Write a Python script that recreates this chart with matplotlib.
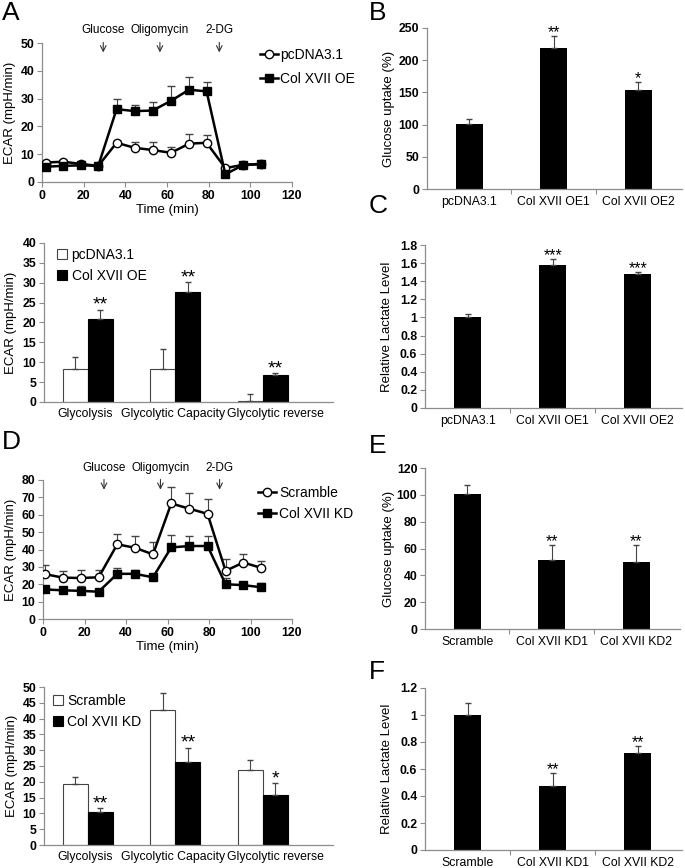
import numpy as np
import matplotlib
matplotlib.use("Agg")
import matplotlib.pyplot as plt
from matplotlib.lines import Line2D
from matplotlib.ticker import FuncFormatter

plt.rcParams['font.family'] = ['Liberation Sans', 'DejaVu Sans']

W, H = 685, 868

# ---- data: panel A (overexpression, Seahorse trace)
time_a = [1.8, 10.2, 18.6, 27.0, 35.8, 44.5, 53.1, 61.9, 70.6, 79.0, 88.0, 96.6, 105.1]
pc_ecar = [7.0, 7.3, 6.5, 5.8, 14.1, 12.3, 11.5, 10.5, 13.8, 14.1, 5.0, 6.2, 6.5]
pc_err = [0.6, 0.6, 0.5, 0.4, 0.5, 2.2, 3.0, 2.0, 3.4, 2.8, 0.6, 0.4, 0.4]
oe_ecar = [5.5, 5.8, 6.0, 5.8, 26.2, 25.5, 25.7, 29.2, 33.2, 32.6, 2.8, 6.1, 6.4]
oe_err = [0.4, 0.4, 0.4, 0.4, 3.6, 2.3, 3.1, 5.2, 4.4, 3.4, 0.5, 0.4, 0.4]

# ---- data: panel D (knockdown, Seahorse trace)
time_d = [1.1, 9.6, 18.2, 26.8, 35.8, 44.3, 53.0, 61.8, 70.5, 79.3, 88.0, 96.5, 105.0]
scr_ecar = [25.8, 23.8, 23.6, 24.0, 43.0, 41.0, 37.2, 66.5, 63.5, 60.5, 27.7, 32.5, 29.5]
scr_err = [5.2, 4.0, 4.5, 4.0, 6.2, 7.0, 7.0, 9.5, 9.0, 8.5, 6.8, 5.0, 4.0]
kd_ecar = [17.0, 16.5, 16.2, 15.7, 26.0, 26.0, 24.0, 41.2, 42.0, 42.0, 20.0, 19.5, 18.3]
kd_err = [1.0, 1.5, 2.8, 1.0, 3.5, 2.0, 0.5, 7.0, 6.0, 6.0, 3.5, 1.0, 2.5]

injections = ['Glucose', 'Oligomycin', '2-DG']
inject_t = [29.4, 56.6, 85.1]

# ---- grouped bars (A lower, D lower)
gly_cats = ['Glycolysis', 'Glycolytic Capacity', 'Glycolytic reverse']
a_pc = [8.2, 8.4, 0.3]
a_pc_err = [3.1, 4.9, 1.7]
a_oe = [20.8, 27.7, 6.8]
a_oe_err = [2.4, 2.5, 0.5]
a_stars = ['**', '**', '**']

d_scr = [19.2, 42.8, 23.6]
d_scr_err = [2.4, 5.4, 3.2]
d_kd = [10.6, 26.3, 15.9]
d_kd_err = [1.0, 4.5, 3.7]
d_stars = ['**', '**', '*']

# ---- single bars
oe_cats = ['pcDNA3.1', 'Col XVII OE1', 'Col XVII OE2']
b_uptake = [101, 219, 154]
b_err = [7.5, 19, 12]
b_stars = ['', '**', '*']
c_lact = [1.0, 1.58, 1.476]
c_err = [0.033, 0.065, 0.03]
c_stars = ['', '***', '***']

kd_cats = ['Scramble', 'Col XVII KD1', 'Col XVII KD2']
e_uptake = [100.7, 51.5, 49.8]
e_err = [6.3, 10.9, 12.6]
e_stars = ['', '**', '**']
f_lact = [1.0, 0.476, 0.72]
f_err = [0.087, 0.091, 0.05]
f_stars = ['', '**', '**']

AXC = '#8c8c8c'
TICK = 8.8
CAT = 9
LAB = 9.5
LEG = 10


def ax_at(l, t, r, b):
    return fig.add_axes([l / W, 1 - b / H, (r - l) / W, (b - t) / H])


def style(ax):
    for s in ['top', 'right']:
        ax.spines[s].set_visible(False)
    for s in ['left', 'bottom']:
        ax.spines[s].set_color(AXC)
        ax.spines[s].set_linewidth(0.9)
    ax.tick_params(direction='out', length=3.5, width=0.8, color=AXC,
                   labelsize=TICK, pad=2)
    for lab in ax.get_yticklabels():
        lab.set_fontweight('bold')


def gfmt(v, pos):
    return '%g' % round(v, 2)


def stars_on(ax, xs, tops, stars, size):
    for x, t, s in zip(xs, tops, stars):
        if s:
            ax.annotate(s, (x, t), xytext=(0, -3), textcoords='offset points',
                        ha='center', va='bottom', fontsize=size)


def trace(ax, t, s1, e1, s2, e2, lab1, lab2, ymax, ystep, arr_top, arr_bot, lab_y, leg_xy, spacing):
    z = np.zeros(len(t))
    ax.errorbar(t, s1, yerr=[z, e1], fmt='-o', color='k', mfc='white', mec='k',
                ms=6, mew=1, lw=1.8, ecolor='#444444', elinewidth=0.8, capsize=3,
                zorder=3)
    ax.errorbar(t, s2, yerr=[z, e2], fmt='-s', color='k', mfc='k', mec='k',
                ms=6, lw=1.8, ecolor='#444444', elinewidth=0.8, capsize=3,
                zorder=4)
    ax.set_xlim(0, 120)
    ax.set_ylim(0, ymax)
    ax.set_xticks(range(0, 121, 20))
    ax.set_yticks(np.arange(0, ymax + 1, ystep))
    ax.set_xlabel('Time (min)', fontsize=LAB, labelpad=2)
    ax.set_ylabel('ECAR (mpH/min)', fontsize=LAB)
    for name, x in zip(injections, inject_t):
        ax.annotate('', xy=(x, arr_bot), xytext=(x, arr_top),
                    arrowprops=dict(arrowstyle='->', color='#333333', lw=0.8),
                    annotation_clip=False)
        ax.text(x, lab_y, name, ha='center', va='center', fontsize=8.5, clip_on=False)
    handles = [Line2D([], [], color='k', lw=1.8, marker='o', mfc='white', mec='k', ms=6),
               Line2D([], [], color='k', lw=1.8, marker='s', mfc='k', mec='k', ms=6)]
    ax.legend(handles, [lab1, lab2], loc='upper left', bbox_to_anchor=leg_xy, frameon=False,
              fontsize=LEG, handlelength=1.3, handletextpad=0.2, borderpad=0,
              borderaxespad=0, labelspacing=spacing)
    style(ax)
    for lab in ax.get_xticklabels():
        lab.set_fontweight('bold')


def grouped(ax, v1, e1, v2, e2, lab1, lab2, stars, ymax, ystep, leg_xy, spacing):
    x = np.arange(len(gly_cats))
    w = 0.286
    ax.bar(x - w / 2, v1, w, color='white', edgecolor='#444444', linewidth=0.8,
           yerr=[np.zeros(3), e1], error_kw=dict(ecolor='#444444', elinewidth=0.8, capsize=2.5),
           label=lab1)
    ax.bar(x + w / 2, v2, w, color='black', edgecolor='black', linewidth=0.8,
           yerr=[np.zeros(3), e2], error_kw=dict(ecolor='#444444', elinewidth=0.8, capsize=2.5),
           label=lab2)
    stars_on(ax, x + w / 2, np.array(v2) + np.array(e2), stars, size=14)
    ax.set_xlim(-0.5, 2.8)
    ax.set_ylim(0, ymax)
    ax.set_yticks(np.arange(0, ymax + 1, ystep))
    # label anchors sit a little off the group centres, as in the original
    ax.set_xticks(x + np.array([-0.035, -0.025, 0.14]))
    ax.set_xticklabels(gly_cats, fontsize=8.6)
    ax.set_ylabel('ECAR (mpH/min)', fontsize=LAB)
    ax.legend(loc='upper left', bbox_to_anchor=leg_xy, frameon=False, fontsize=LEG,
              handlelength=0.75, handleheight=0.75, handletextpad=0.3, borderpad=0,
              borderaxespad=0, labelspacing=spacing)
    style(ax)
    ax.tick_params(axis='x', length=0, pad=4)


def single(ax, cats, vals, errs, stars, ymax, ystep, ylabel):
    x = np.arange(len(cats))
    ax.bar(x, vals, 0.32, color='black', yerr=[np.zeros(len(x)), errs],
           error_kw=dict(ecolor='#444444', elinewidth=0.8, capsize=2.5))
    stars_on(ax, x, np.array(vals) + np.array(errs), stars, size=11.5)
    ax.set_xlim(-0.5, 2.52)
    ax.set_ylim(0, ymax)
    ax.set_yticks(np.arange(0, ymax + ystep / 2, ystep))
    ax.yaxis.set_major_formatter(FuncFormatter(gfmt))
    ax.set_xticks(x)
    ax.set_xticklabels(cats, fontsize=CAT)
    ax.set_xticks([0.5, 1.5], minor=True)
    ax.set_ylabel(ylabel, fontsize=LAB)
    style(ax)
    ax.tick_params(axis='x', which='major', length=0, pad=5)
    ax.tick_params(axis='x', which='minor', length=3.5, width=0.8, color=AXC, direction='out')


fig = plt.figure(figsize=(W / 100, H / 100), dpi=100)

# A trace
ax = ax_at(42, 43, 292, 182)
trace(ax, time_a, pc_ecar, pc_err, oe_ecar, oe_err, 'pcDNA3.1', 'Col XVII OE',
      50, 10, 51.2, 45.6, 54.6, (0.87, 0.965), 0.75)
ax.yaxis.set_label_coords(-0.104, 0.5)

# A bars
ax = ax_at(44, 243, 333, 402)
grouped(ax, a_pc, a_pc_err, a_oe, a_oe_err, 'pcDNA3.1', 'Col XVII OE', a_stars,
        40, 5, (0.045, 0.97), 0.5)
ax.yaxis.set_label_coords(-0.093, 0.5)

# B
ax = ax_at(427, 28, 682, 189)
single(ax, oe_cats, b_uptake, b_err, b_stars, 250, 50, 'Glucose uptake (%)')
ax.yaxis.set_label_coords(-0.125, 0.5)

# C
ax = ax_at(425, 245, 682, 408)
single(ax, oe_cats, c_lact, c_err, c_stars, 1.8, 0.2, 'Relative Lactate Level')
ax.yaxis.set_label_coords(-0.125, 0.5)

# D trace
ax = ax_at(43, 480, 292, 619)
trace(ax, time_d, scr_ecar, scr_err, kd_ecar, kd_err, 'Scramble', 'Col XVII KD',
      80, 10, 81.9, 72.8, 86.7, (0.865, 0.955), 0.5)
ax.yaxis.set_label_coords(-0.104, 0.5)

# D bars
ax = ax_at(44, 687, 333, 845)
grouped(ax, d_scr, d_scr_err, d_kd, d_kd_err, 'Scramble', 'Col XVII KD', d_stars,
        50, 5, (0.03, 0.955), 0.5)
ax.yaxis.set_label_coords(-0.09, 0.5)

# E
ax = ax_at(425, 468, 680, 629)
single(ax, kd_cats, e_uptake, e_err, e_stars, 120, 20, 'Glucose uptake (%)')
ax.yaxis.set_label_coords(-0.118, 0.5)

# F
ax = ax_at(425, 688, 682, 850)
single(ax, kd_cats, f_lact, f_err, f_stars, 1.2, 0.2, 'Relative Lactate Level')
ax.yaxis.set_label_coords(-0.125, 0.5)

# panel letters
for letter, px, py in [('A', 2, 1), ('B', 369, 1), ('C', 369, 194),
                       ('D', 2, 430), ('E', 369, 434), ('F', 369, 660)]:
    fig.text(px / W, 1 - py / H, letter, fontsize=19, ha='left', va='top')

fig.savefig('out.png', dpi=100)
